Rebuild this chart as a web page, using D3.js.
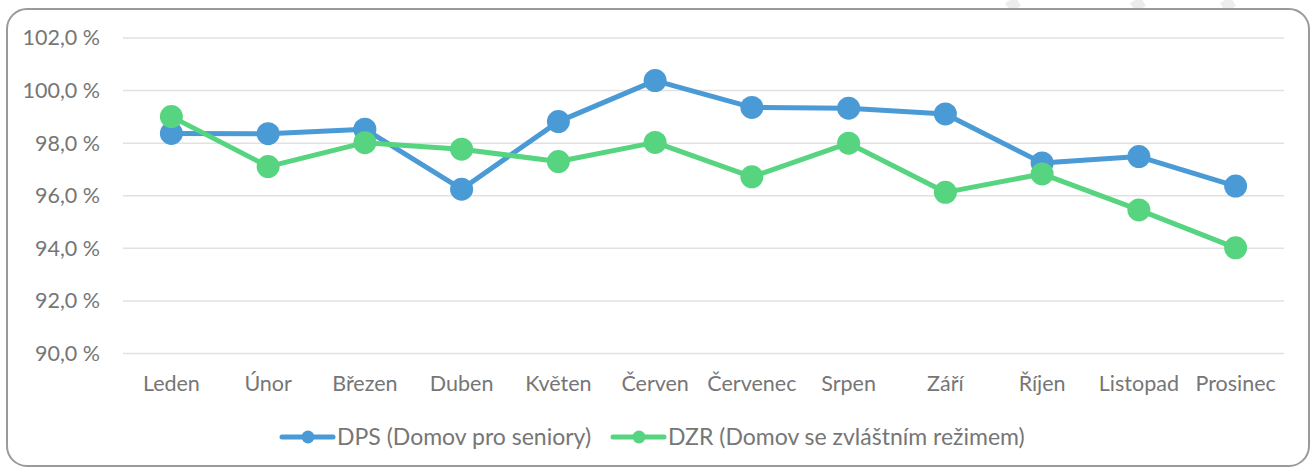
<!DOCTYPE html>
<html>
<head>
  <meta charset="utf-8">
  <script src="https://d3js.org/d3.v7.min.js"></script>
  <style>
    body { margin: 0; background: #fff; }
    text { font-family: Lato, "Open Sans", sans-serif; fill: #767676; }
  </style>
</head>
<body>
  <svg id="chart" width="1312" height="469"></svg>
  <script>
    // data
    var months = ["Leden", "Únor", "Březen", "Duben", "Květen", "Červen", "Červenec", "Srpen", "Září", "Říjen", "Listopad", "Prosinec"];
    var dps = [98.37, 98.36, 98.53, 96.25, 98.82, 100.38, 99.36, 99.33, 99.11, 97.25, 97.49, 96.37];
    var dzr = [99.01, 97.11, 98.02, 97.77, 97.3, 98.03, 96.72, 98.0, 96.13, 96.83, 95.46, 94.02];
    var yTicks = [90, 92, 94, 96, 98, 100, 102];
    var seriesNames = ["DPS (Domov pro seniory)", "DZR (Domov se zvláštním režimem)"];
    var colors = ["#4a9ad6", "#57d47f"];

    var fontSize = "21.5px";
    var svg = d3.select("#chart");

    // faint shapes peeking above the frame
    [1013, 1138, 1228].forEach(function(x) {
      svg.append("line")
        .attr("x1", x - 3).attr("y1", 0)
        .attr("x2", x + 3).attr("y2", 9)
        .style("stroke", "#ececec")
        .style("stroke-width", 12);
    });

    // chart frame
    svg.append("rect")
      .attr("x", 7).attr("y", 9)
      .attr("width", 1302).attr("height", 457)
      .attr("rx", 20).attr("ry", 20)
      .style("fill", "#fff")
      .style("stroke", "#9a9a9a")
      .style("stroke-width", 2);

    var xScale = d3.scaleBand()
      .domain(months)
      .range([123, 1284]);

    var yScale = d3.scaleLinear()
      .domain([90, 102])
      .range([353.5, 38]);

    // gridlines
    svg.append("g")
      .selectAll("line")
      .data(yTicks)
      .enter().append("line")
      .attr("x1", 123).attr("x2", 1284)
      .attr("y1", function(d) { return yScale(d); })
      .attr("y2", function(d) { return yScale(d); })
      .style("stroke", "#e1e1e1")
      .style("stroke-width", 1.5);

    // y axis labels
    var yAxis = d3.axisLeft(yScale)
      .tickValues(yTicks)
      .tickSize(0)
      .tickPadding(0)
      .tickFormat(function(d) { return d.toFixed(1).replace(".", ",") + " %"; });

    var gy = svg.append("g")
      .attr("transform", "translate(100,0)")
      .call(yAxis);
    gy.select(".domain").remove();
    gy.selectAll("text")
      .style("font-size", fontSize)
      .style("font-family", "Lato, sans-serif")
      .style("fill", "#767676");

    // x axis labels
    var xAxis = d3.axisBottom(xScale).tickSize(0).tickPadding(0);
    var gx = svg.append("g")
      .attr("transform", "translate(0,376)")
      .call(xAxis);
    gx.select(".domain").remove();
    gx.selectAll("text")
      .style("font-size", fontSize)
      .style("font-family", "Lato, sans-serif")
      .style("fill", "#767676");

    var line = d3.line()
      .x(function(d, i) { return xScale(months[i]) + xScale.bandwidth() / 2; })
      .y(function(d) { return yScale(d); });

    [dps, dzr].forEach(function(values, k) {
      svg.append("path")
        .datum(values)
        .attr("d", line)
        .style("fill", "none")
        .style("stroke", colors[k])
        .style("stroke-width", 5)
        .style("stroke-linejoin", "round");

      svg.append("g")
        .selectAll("circle")
        .data(values)
        .enter().append("circle")
        .attr("cx", function(d, i) { return xScale(months[i]) + xScale.bandwidth() / 2; })
        .attr("cy", function(d) { return yScale(d); })
        .attr("r", 11.5)
        .style("fill", colors[k]);
    });

    // legend
    var legendX = [282, 613];
    var legend = svg.append("g").attr("class", "legend");
    seriesNames.forEach(function(name, k) {
      var g = legend.append("g").attr("transform", "translate(" + legendX[k] + ",437)");
      g.append("line")
        .attr("x1", 0).attr("x2", 51)
        .style("stroke", colors[k])
        .style("stroke-width", 5)
        .style("stroke-linecap", "round");
      g.append("circle")
        .attr("cx", 26).attr("r", 6.5)
        .style("fill", colors[k]);
      g.append("text")
        .attr("x", 55)
        .attr("dy", "0.35em")
        .text(name)
        .style("font-size", "23px")
        .style("font-family", "Lato, sans-serif")
        .style("fill", "#767676");
    });
  </script>
</body>
</html>
